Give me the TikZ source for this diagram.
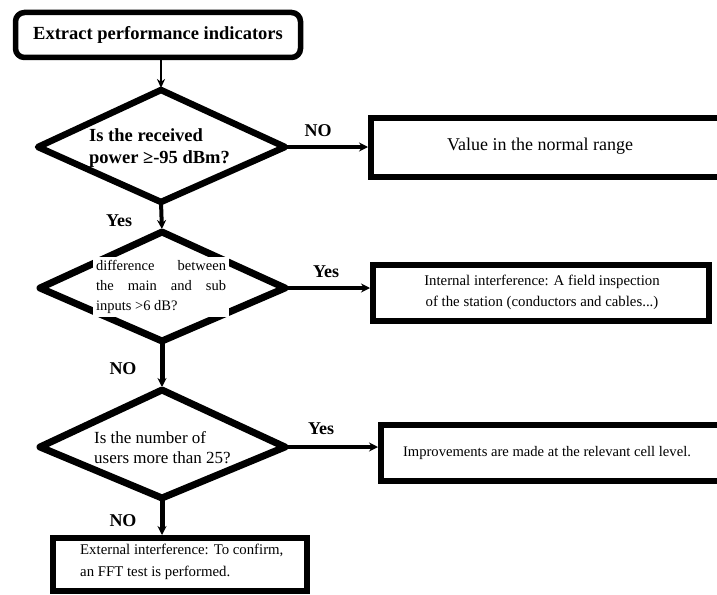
\documentclass[tikz,border=0pt]{standalone}
\usepackage{fontspec}
\setmainfont{Liberation Serif}
\usetikzlibrary{arrows.meta}
\begin{document}
\begin{tikzpicture}[x=1pt,y=-1pt,
  sbox/.style={draw=black,line width=6pt,inner sep=0pt,outer sep=0pt},
  dia/.style={draw=black,line width=6.5pt,line join=round},
  arr/.style={draw=black,line width=4pt,shorten >=3pt,-{Stealth[length=9pt,width=9pt]}},
  thinarr/.style={draw=black,line width=2pt,shorten >=2pt,-{Stealth[length=9pt,width=8pt]}},
  lbl/.style={font=\fontsize{18}{20}\selectfont\bfseries,inner sep=0pt}
]
\useasboundingbox (0,0) rectangle (717,594);
% start box
\node[sbox,rounded corners=9pt,line width=5.5pt,minimum width=285pt,minimum height=45pt,
      font=\fontsize{18.5}{22}\selectfont\bfseries] (start) at (158,35) {Extract performance indicators};
% diamond 1
\coordinate (d1l) at (38,147); \coordinate (d1t) at (161,90);
\coordinate (d1r) at (285,147); \coordinate (d1b) at (161,202);
\draw[dia] (d1l) -- (d1t) -- (d1r) -- (d1b) -- cycle;
\node[anchor=west,align=left,inner sep=0pt,font=\fontsize{18.5}{22}\selectfont\bfseries] (q1) at (89,148)
  {Is the received\\power ≥-95 dBm?};
% box 2
\node[sbox,anchor=north west,minimum width=355pt,minimum height=59pt] (b2) at (371,118) {};
\node[font=\fontsize{18}{20}\selectfont,inner sep=0pt] (t2) at (540,146) {Value in the normal range};
% diamond 2
\coordinate (d2l) at (40,288); \coordinate (d2t) at (162,232);
\coordinate (d2r) at (285,288); \coordinate (d2b) at (162,341);
\draw[dia,line width=7pt] (d2l) -- (d2t) -- (d2r) -- (d2b) -- cycle;
\node[fill=white,inner sep=3pt] (q2) at (161,287)
  {\parbox{130pt}{\fontsize{14.5}{20}\selectfont
   \makebox[130pt][s]{difference between}\\
   \makebox[130pt][s]{the main and sub}\\
   inputs >6 dB?}};
% box 3
\node[sbox,anchor=north west,minimum width=336pt,minimum height=56pt] (b3) at (373,265) {};
\node[align=center,inner sep=0pt,font=\fontsize{14.8}{21}\selectfont] (t3) at (542,292)
  {Internal interference: A field inspection\\of the station (conductors and cables...)};
% diamond 3
\coordinate (d3l) at (40,447); \coordinate (d3t) at (162,390);
\coordinate (d3r) at (285,447); \coordinate (d3b) at (162,498);
\draw[dia,line width=7pt] (d3l) -- (d3t) -- (d3r) -- (d3b) -- cycle;
\node[anchor=west,align=left,inner sep=0pt,font=\fontsize{17}{20}\selectfont] (q3) at (94,448)
  {Is the number of\\users more than 25?};
% box 4
\node[sbox,anchor=north west,minimum width=345pt,minimum height=56pt] (b4) at (381,425) {};
\node[inner sep=0pt,font=\fontsize{14.6}{18}\selectfont] (t4) at (547,453)
  {Improvements are made at the relevant cell level.};
% box 5
\node[sbox,anchor=north west,minimum width=254pt,minimum height=53pt,line width=5.5pt] (b5) at (53,538) {};
\node[anchor=west,align=left,inner sep=0pt,font=\fontsize{14.8}{22}\selectfont] (t5) at (80,562)
  {External interference: To confirm,\\an FFT test is performed.};
% connectors
\draw[thinarr] (start.south -| d1t) -- (d1t);
\draw[arr] (d1r) -- (b2.west |- d1r);
\draw[arr] (d1b) -- (d2t);
\draw[arr] (d2r) -- (b3.west |- d2r);
\draw[arr,line width=5pt] (d2b) -- (d3t);
\draw[arr] (d3r) -- (b4.west |- d3r);
\draw[arr,line width=5pt] (d3b) -- (b5.north -| d3b);
% labels
\node[lbl] (l1) at (318,131) {NO};
\node[lbl] (l2) at (119,221) {Yes};
\node[lbl] (l3) at (326,272) {Yes};
\node[lbl] (l4) at (123,369) {NO};
\node[lbl] (l5) at (321,429) {Yes};
\node[lbl] (l6) at (123,521) {NO};
\end{tikzpicture}
\end{document}
